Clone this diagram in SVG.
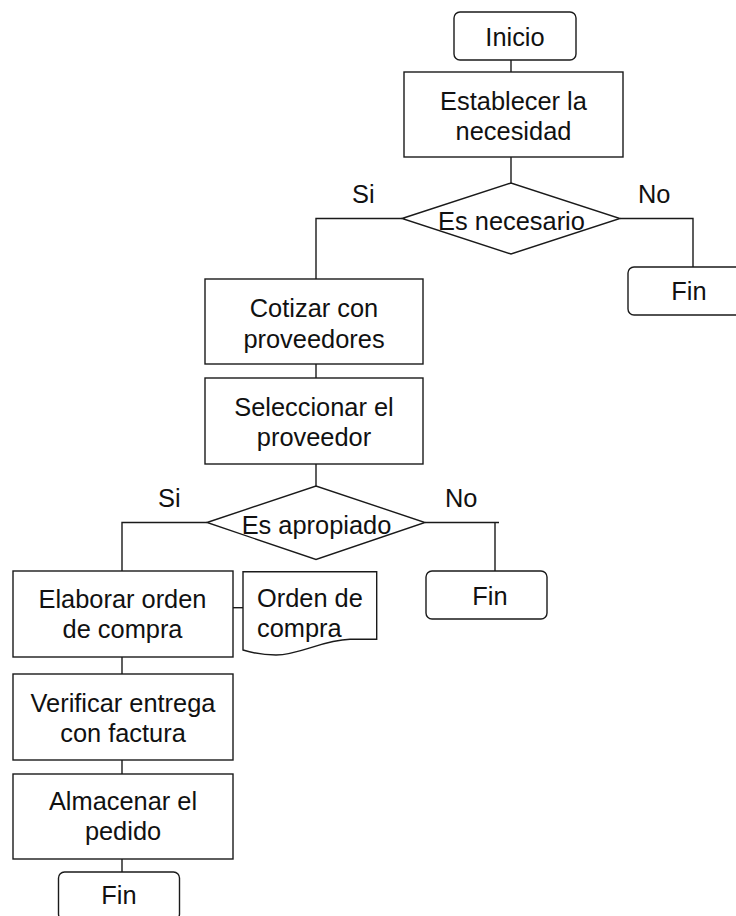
<svg xmlns="http://www.w3.org/2000/svg" width="736" height="916" viewBox="0 0 736 916">
  <style>
    .shape { fill: #fff; stroke: #1a1a1a; stroke-width: 1.4; }
    .conn { fill: none; stroke: #1a1a1a; stroke-width: 1.4; }
    text { font-family: "Liberation Sans", Arial, sans-serif; font-size: 25.4px; fill: #111; }
    .c { text-anchor: middle; }
  </style>
  <rect width="736" height="916" fill="#fff"/>

  <!-- connectors -->
  <g id="connectors">
    <path class="conn" d="M511,60 V72"/>
    <path class="conn" d="M511,157 V183"/>
    <path class="conn" d="M620,218.5 H693 V267"/>
    <path class="conn" d="M402,218.5 H316 V279"/>
    <path class="conn" d="M316,364 V378"/>
    <path class="conn" d="M316,464 V486"/>
    <path class="conn" d="M425,522.5 H499 M495,522.5 V571"/>
    <path class="conn" d="M207,522.5 H122 V571"/>
    <path class="conn" d="M233,607.7 H243"/>
    <path class="conn" d="M122,657 V674"/>
    <path class="conn" d="M122,760 V774"/>
    <path class="conn" d="M122,859 V872"/>
    <text x="352" y="203">Si</text>
    <text x="638" y="203">No</text>
    <text x="158" y="507">Si</text>
    <text x="445" y="507">No</text>
  </g>

  <g id="inicio">
    <rect class="shape" x="454" y="12" width="122" height="48" rx="6"/>
    <text class="c" x="515" y="46">Inicio</text>
  </g>

  <g id="establecer">
    <rect class="shape" x="404" y="72" width="219" height="85"/>
    <text class="c" x="513.5" y="110">Establecer la</text>
    <text class="c" x="513.5" y="140">necesidad</text>
  </g>

  <g id="es-necesario">
    <polygon class="shape" points="402,218.5 511,183 620,218.5 511,254"/>
    <text class="c" x="511.5" y="230">Es necesario</text>
  </g>

  <g id="fin-1">
    <rect class="shape" x="628" y="267" width="122" height="48" rx="6"/>
    <text class="c" x="689" y="300">Fin</text>
  </g>

  <g id="cotizar">
    <rect class="shape" x="205" y="279" width="218" height="85"/>
    <text class="c" x="314" y="317">Cotizar con</text>
    <text class="c" x="314" y="348">proveedores</text>
  </g>

  <g id="seleccionar">
    <rect class="shape" x="205" y="378" width="218" height="86"/>
    <text class="c" x="314" y="416">Seleccionar el</text>
    <text class="c" x="314" y="446">proveedor</text>
  </g>

  <g id="es-apropiado">
    <polygon class="shape" points="207,522.5 316,486 425,522.5 316,559.5"/>
    <text class="c" x="316.5" y="533.5">Es apropiado</text>
  </g>

  <g id="fin-2">
    <rect class="shape" x="426" y="571" width="121" height="48" rx="6"/>
    <text class="c" x="490" y="605">Fin</text>
  </g>

  <g id="elaborar">
    <rect class="shape" x="13" y="571" width="220" height="86"/>
    <text class="c" x="122.5" y="607.7">Elaborar orden</text>
    <text class="c" x="122.5" y="638.3">de compra</text>
  </g>

  <g id="orden-de-compra">
    <path class="shape" d="M243,571.7 H376.7 V639.3 H350 C322,640 300,655 276,655 C262,655 251,652.5 243,650 Z"/>
    <text x="257" y="606.7">Orden de</text>
    <text x="257" y="636.7">compra</text>
  </g>

  <g id="verificar">
    <rect class="shape" x="13" y="674" width="220" height="86"/>
    <text class="c" x="123" y="711.7">Verificar entrega</text>
    <text class="c" x="123" y="741.7">con factura</text>
  </g>

  <g id="almacenar">
    <rect class="shape" x="13" y="774" width="220" height="85"/>
    <text class="c" x="123" y="810">Almacenar el</text>
    <text class="c" x="123" y="839.5">pedido</text>
  </g>

  <g id="fin-3">
    <rect class="shape" x="58.5" y="872" width="121" height="48" rx="6"/>
    <text class="c" x="119" y="904">Fin</text>
  </g>
</svg>
